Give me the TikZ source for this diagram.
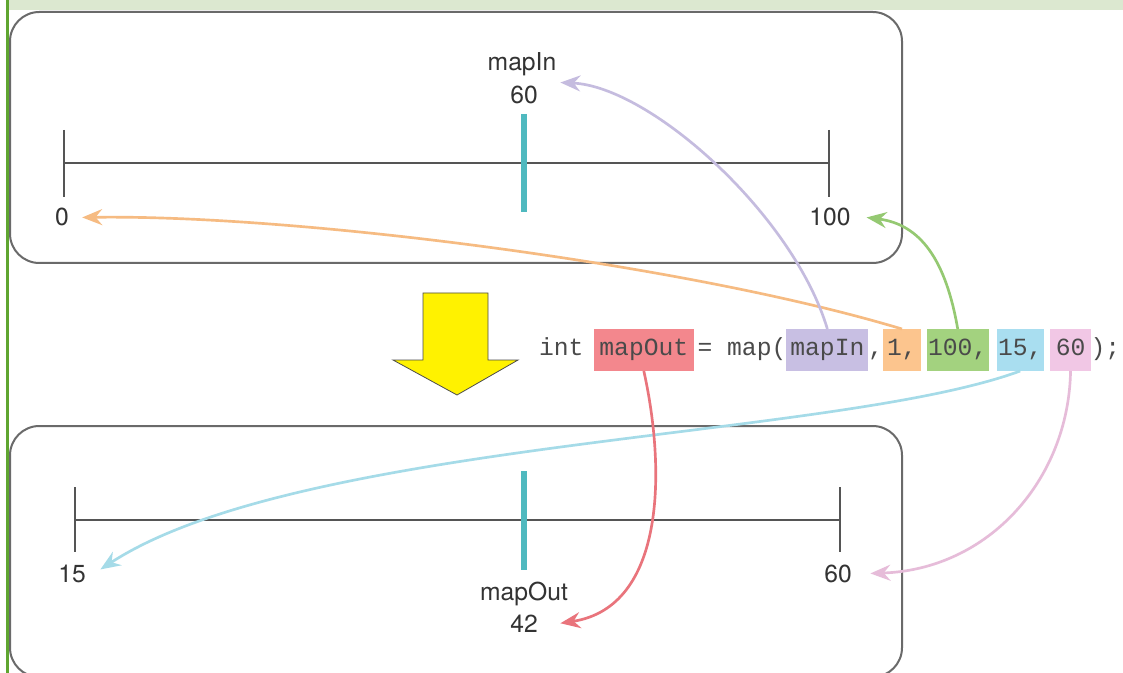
\documentclass[tikz,border=0pt]{standalone}
\usepackage{fontspec}
\setmainfont{TeX Gyre Heros}
\setmonofont{Liberation Mono}
\usepackage{xcolor}
\usepackage{tikz}
\usetikzlibrary{arrows.meta,positioning}
\definecolor{bandgreen}{HTML}{DCE8D0}
\definecolor{bargreen}{HTML}{5FA530}
\definecolor{framegray}{HTML}{6A6A6A}
\definecolor{axisgray}{HTML}{555555}
\definecolor{markcyan}{HTML}{4FB9BF}
\definecolor{txtgray}{HTML}{333333}
\definecolor{codegray}{HTML}{4A4A4A}
\definecolor{hlred}{HTML}{F3878D}
\definecolor{hlpurple}{HTML}{C8BFE3}
\definecolor{hlorange}{HTML}{FCC58E}
\definecolor{hlgreen}{HTML}{A3D27F}
\definecolor{hlblue}{HTML}{A9DEF0}
\definecolor{hlpink}{HTML}{F1C7E5}
\definecolor{arred}{HTML}{E9747C}
\definecolor{arpurple}{HTML}{C5BCDF}
\definecolor{arorange}{HTML}{F6BB82}
\definecolor{argreen}{HTML}{95C972}
\definecolor{arblue}{HTML}{A5DBE8}
\definecolor{arpink}{HTML}{E6BCD9}
\newcommand{\lf}{\fontsize{18.5}{21}\selectfont}
\newcommand{\cf}{\ttfamily\fontsize{18.5}{22}\selectfont}

\begin{document}
\begin{tikzpicture}[x={(0.75pt,0)}, y={(0,-0.75pt)}, every node/.style={inner sep=0pt, outer sep=0pt},
  lbl/.style={font=\lf, text=txtgray},
  code/.style={font=\cf, text=codegray, text height=12pt, text depth=4pt},
  hl/.style={code, fill=#1, inner xsep=3pt, minimum height=31.5pt},
  link/.style={draw=#1, line width=2pt, -{Stealth[length=15pt, width=12pt, inset=5pt]}}]
\useasboundingbox (0,0) rectangle (1123,673);
\fill[white] (0,0) rectangle (1123,673);
% ---- page band and margin bar
\fill[bandgreen] (8,0) rectangle (1123,10.5);
\fill[bargreen] (5.5,0) rectangle (9,673);
% ---- the two ranges
\draw[framegray, line width=1.5pt, rounded corners=22pt] (10,12) rectangle (902,263);
\draw[framegray, line width=1.5pt, rounded corners=22pt] (10,426) rectangle (902,677);
% input range 0..100
\draw[axisgray, line width=1.5pt] (64,163) -- (829,163);
\draw[axisgray, line width=1.1pt] (64,130) -- (64,197) (829,130) -- (829,197);
\draw[markcyan, line width=3.8pt] (524,114) -- (524,212);
\node[lbl, anchor=base] (lin) at (522,71) {mapIn};
\node[lbl, anchor=base] (lv60) at (524,104) {60};
\node[lbl, anchor=base] (lzero) at (62,226) {0};
\node[lbl, anchor=base] (lhun) at (830,226) {100};
% output range 15..60
\draw[axisgray, line width=1.5pt] (75,520) -- (840,520);
\draw[axisgray, line width=1.1pt] (75,487) -- (75,552) (840,487) -- (840,552);
\draw[markcyan, line width=3.8pt] (524,471) -- (524,570);
\node[lbl, anchor=base] (lfif) at (72,582) {15};
\node[lbl, anchor=base] (lsix) at (838,582) {60};
\node[lbl, anchor=base] (lout) at (524,600) {mapOut};
\node[lbl, anchor=base] (lv42) at (524,632) {42};
% ---- big down arrow
\draw[black!70, fill=yellow, line width=0.6pt] (423,293) -- (488,293) -- (488,360) -- (518,360)
  -- (457,395) -- (393,360) -- (423,360) -- cycle;
% ---- the call
\node[code, anchor=west] (cint) at (539,350) {int};
\node[hl=hlred, inner xsep=4pt, right=8pt of cint] (cout) {mapOut};
\node[code, right=3pt of cout] (cmap) {=~map(};
\node[hl=hlpurple, right=0pt of cmap] (cin) {mapIn};
\node[code, right=0pt of cin] (ccom) {,};
\node[hl=hlorange, right=0pt of ccom] (cone) {1,};
\node[hl=hlgreen, inner xsep=1pt, right=4.5pt of cone] (chun) {100,};
\node[hl=hlblue, inner xsep=1pt, right=6pt of chun] (cfif) {15,};
\node[hl=hlpink, inner xsep=4pt, right=5pt of cfif] (csix) {60};
\node[code, right=0pt of csix] (cend) {);};
% ---- where each argument goes
\draw[link=arorange] (cone.north) .. controls +(-212,-64) and +(216,-3) .. ([xshift=10pt]lzero.east);
\draw[link=arpurple] (cin.north) .. controls +(-34,-114) and +(90,4) .. ([xshift=17pt,yshift=3pt]lv60.north east);
\draw[link=argreen] (chun.north) .. controls +(-12,-69) and +(54,7) .. ([xshift=12pt]lhun.east);
\draw[link=arblue] (cfif.south) .. controls +(-185,68) and +(200,-130) .. ([xshift=11pt,yshift=3pt]lfif.east);
\draw[link=arpink] (csix.south) .. controls +(-2,109) and +(118,-4) .. ([xshift=14pt]lsix.east);
\draw[link=arred] (cout.south) .. controls +(22,99) and +(105,-16) .. ([xshift=17pt]lv42.east);
\end{tikzpicture}
\end{document}
